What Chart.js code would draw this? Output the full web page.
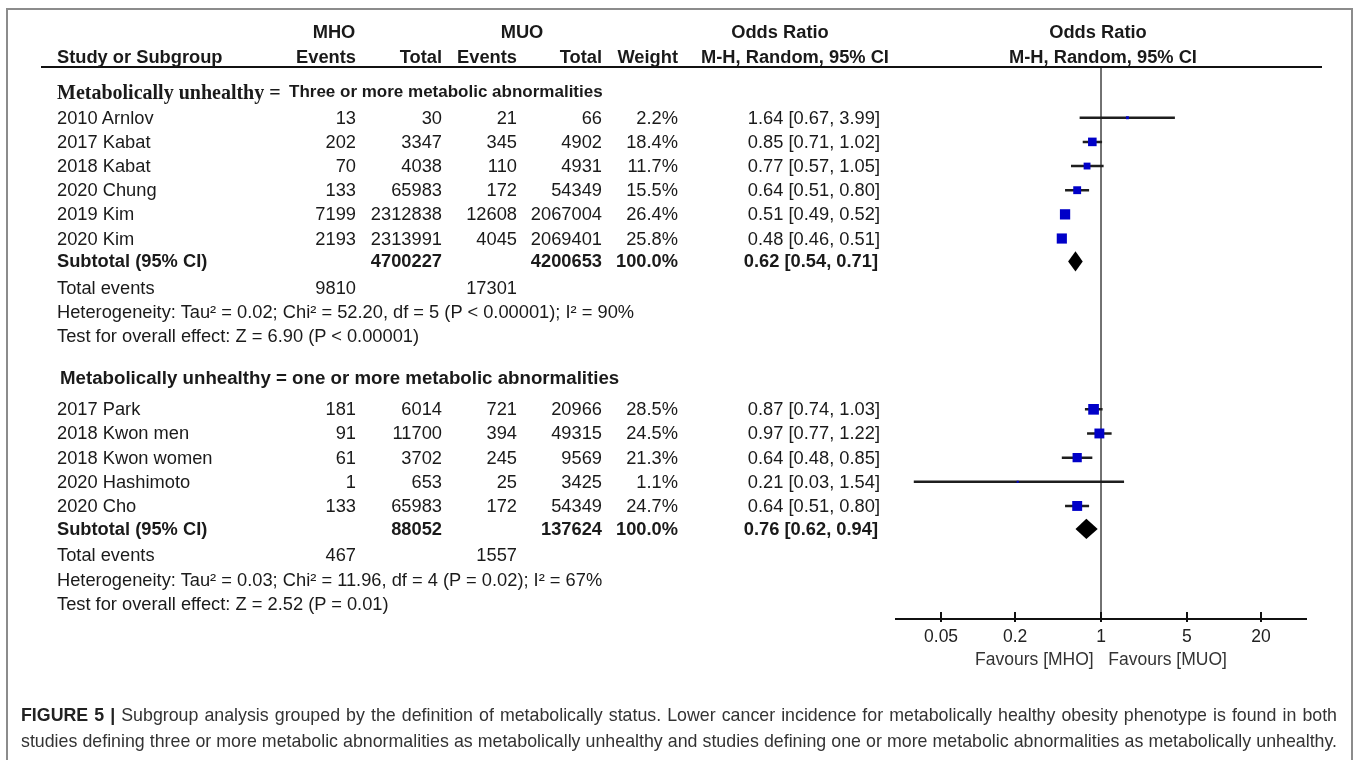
<!DOCTYPE html>
<html>
<head>
<meta charset="utf-8">
<script src="https://cdn.jsdelivr.net/npm/chart.js@4.4.1/dist/chart.umd.min.js"></script>
<style>
  body { margin: 0; background: #fff; }
  #fig { position: relative; width: 1357px; height: 760px; overflow: hidden; background: #fff;
         font-family: "Liberation Sans", Arial, sans-serif; color: #1a1a1a; }
  #frame { position: absolute; left: 6px; top: 8px; width: 1347px; height: 800px;
           border: 2px solid #8c8c8c; box-sizing: border-box; }
  #forest { position: absolute; left: 0; top: 0; }
  .t { position: absolute; white-space: nowrap; font-size: 18.3px; line-height: 20px; }
  .b { font-weight: bold; }
  .small { font-size: 17px; }
  .big { font-size: 18.7px; }
  .serif { font-family: "Liberation Serif", "Times New Roman", serif; font-weight: bold; font-size: 20px; }
  #hline { position: absolute; left: 41px; top: 66px; width: 1281px; height: 2px; background: #111; }
  .cap { position: absolute; left: 21px; width: 1316px; font-size: 17.8px; line-height: 26px; color: #333;
         white-space: nowrap; text-align: justify; text-align-last: justify; }
  .cap b { color: #222; }
</style>
</head>
<body>
<div id="fig">
  <div id="frame"></div>
  <canvas id="forest" width="1357" height="760"></canvas>
  <div id="hline"></div>
  <div class="cap" style="top:702px"><b>FIGURE 5 |</b> Subgroup analysis grouped by the definition of metabolically status. Lower cancer incidence for metabolically healthy obesity phenotype is found in both</div>
  <div class="cap" style="top:728px">studies defining three or more metabolic abnormalities as metabolically unhealthy and studies defining one or more metabolic abnormalities as metabolically unhealthy.</div>
</div>
<script>
// Gruppe 1: drei oder mehr metabolische Auffälligkeiten
var g1Studies = ['2010 Arnlov', '2017 Kabat', '2018 Kabat', '2020 Chung', '2019 Kim', '2020 Kim'];
var g1MhoEvents = [13, 202, 70, 133, 7199, 2193];
var g1MhoTotal = [30, 3347, 4038, 65983, 2312838, 2313991];
var g1MuoEvents = [21, 345, 110, 172, 12608, 4045];
var g1MuoTotal = [66, 4902, 4931, 54349, 2067004, 2069401];
var g1Weight = [2.2, 18.4, 11.7, 15.5, 26.4, 25.8];
var g1Or = [1.64, 0.85, 0.77, 0.64, 0.51, 0.48];
var g1Lo = [0.67, 0.71, 0.57, 0.51, 0.49, 0.46];
var g1Hi = [3.99, 1.02, 1.05, 0.80, 0.52, 0.51];
var g1Subtotal = [0.62, 0.54, 0.71];          // OR, lower, upper
var g1Totals = [4700227, 4200653];            // MHO total, MUO total
var g1TotalEvents = [9810, 17301];
var g1Heterogeneity = 'Heterogeneity: Tau² = 0.02; Chi² = 52.20, df = 5 (P < 0.00001); I² = 90%';
var g1Overall = 'Test for overall effect: Z = 6.90 (P < 0.00001)';

// Gruppe 2: eine oder mehr metabolische Auffälligkeiten
var g2Studies = ['2017 Park', '2018 Kwon men', '2018 Kwon women', '2020 Hashimoto', '2020 Cho'];
var g2MhoEvents = [181, 91, 61, 1, 133];
var g2MhoTotal = [6014, 11700, 3702, 653, 65983];
var g2MuoEvents = [721, 394, 245, 25, 172];
var g2MuoTotal = [20966, 49315, 9569, 3425, 54349];
var g2Weight = [28.5, 24.5, 21.3, 1.1, 24.7];
var g2Or = [0.87, 0.97, 0.64, 0.21, 0.64];
var g2Lo = [0.74, 0.77, 0.48, 0.03, 0.51];
var g2Hi = [1.03, 1.22, 0.85, 1.54, 0.80];
var g2Subtotal = [0.76, 0.62, 0.94];
var g2Totals = [88052, 137624];
var g2TotalEvents = [467, 1557];
var g2Heterogeneity = 'Heterogeneity: Tau² = 0.03; Chi² = 11.96, df = 4 (P = 0.02); I² = 67%';
var g2Overall = 'Test for overall effect: Z = 2.52 (P = 0.01)';

var tickValues = [0.05, 0.2, 1, 5, 20];
var axisLabel = 'Favours [MHO]   Favours [MUO]';

// Zeilenlayout (in Zeileneinheiten, 0 = Kopflinie)
var yMax = 22.85;
var g1Header = 1.03, g1First = 2.1;
var g2Header = 12.89, g2First = 14.17;

function rowsOf(first, n) {
    var r = [];
    for (var i = 0; i < n; i++) r.push(first + i);
    return r;
}
var g1Rows = rowsOf(g1First, g1Studies.length);
var g2Rows = rowsOf(g2First, g2Studies.length);
var g1SubRow = g1First + g1Studies.length - 0.05;
var g2SubRow = g2First + g2Studies.length - 0.05;

var allOr = g1Or.concat(g2Or), allLo = g1Lo.concat(g2Lo), allHi = g1Hi.concat(g2Hi);
var allW = g1Weight.concat(g2Weight), allRows = g1Rows.concat(g2Rows);

var squares = allOr.map(function (v, i) { return { x: v, y: allRows[i] }; });
var ciLines = [];
allLo.forEach(function (lo, i) {
    ciLines.push({ x: lo, y: allRows[i] }, { x: allHi[i], y: allRows[i] }, { x: 1, y: null });
});

var diamondPlugin = {
    id: 'diamonds',
    afterDatasetsDraw: function (chart) {
        var xs = chart.scales.x, ys = chart.scales.y, c = chart.ctx;
        [[g1Subtotal, g1SubRow], [g2Subtotal, g2SubRow]].forEach(function (d) {
            var s = d[0], r = d[1];
            c.save();
            c.fillStyle = '#000';
            c.beginPath();
            c.moveTo(xs.getPixelForValue(s[1]), ys.getPixelForValue(r));
            c.lineTo(xs.getPixelForValue(s[0]), ys.getPixelForValue(r - 0.42));
            c.lineTo(xs.getPixelForValue(s[2]), ys.getPixelForValue(r));
            c.lineTo(xs.getPixelForValue(s[0]), ys.getPixelForValue(r + 0.42));
            c.closePath();
            c.fill();
            c.restore();
        });
    },
    afterDraw: function (chart) {
        // Tick-Striche über der Achse
        var xs = chart.scales.x, c = chart.ctx, yb = chart.chartArea.bottom;
        c.save();
        c.strokeStyle = '#111';
        c.lineWidth = 2;
        tickValues.forEach(function (v) {
            var px = Math.round(xs.getPixelForValue(v));
            c.beginPath();
            c.moveTo(px, yb - 7);
            c.lineTo(px, yb + 3);
            c.stroke();
        });
        c.restore();
    }
};

var ctx = document.getElementById('forest').getContext('2d');
var forestChart = new Chart(ctx, {
    type: 'scatter',
    data: {
        datasets: [{
            data: squares,
            pointStyle: 'rect',
            backgroundColor: '#0000c8',
            borderWidth: 0,
            pointRadius: function (c) { return 2 * Math.sqrt(allW[c.dataIndex]) / 1.414; }
        }, {
            type: 'line',
            data: ciLines,
            borderColor: '#1e1e1e',
            borderWidth: 2.5,
            pointRadius: 0,
            spanGaps: false
        }, {
            type: 'line',
            data: [{ x: 1, y: 0 }, { x: 1, y: yMax }],
            borderColor: '#444',
            borderWidth: 1.5,
            pointRadius: 0
        }]
    },
    plugins: [diamondPlugin],
    options: {
        responsive: false,
        animation: false,
        layout: { padding: { left: 896, right: 51, top: 67, bottom: 91.5 } },
        plugins: { legend: { display: false }, tooltip: { enabled: false } },
        scales: {
            x: {
                type: 'logarithmic',
                min: 0.0215,
                max: 46.5,
                afterBuildTicks: function (axis) {
                    axis.ticks = tickValues.map(function (v) { return { value: v }; });
                },
                ticks: {
                    padding: 9.5,
                    color: '#222',
                    font: { family: '"Liberation Sans", Arial, sans-serif', size: 17.5, lineHeight: 1 },
                    callback: function (v) { return String(v); }
                },
                grid: { display: false, drawTicks: false },
                border: { display: true, color: '#111', width: 2 },
                title: {
                    display: true,
                    text: axisLabel,
                    color: '#333',
                    padding: { top: -4.5, bottom: 0 },
                    font: { family: '"Liberation Sans", Arial, sans-serif', size: 17.5, lineHeight: 1 }
                }
            },
            y: { type: 'linear', display: false, reverse: true, min: 0, max: yMax }
        }
    }
});

// Tabellentext
var fig = document.getElementById('fig');
var ys = forestChart.scales.y;
function put(text, x, y, align, cls) {
    var d = document.createElement('div');
    d.className = 't' + (cls ? ' ' + cls : '');
    d.textContent = text;
    d.style.top = (y - 10) + 'px';
    if (align === 'right') { d.style.left = (x - 500) + 'px'; d.style.width = '500px'; d.style.textAlign = 'right'; }
    else if (align === 'center') { d.style.left = (x - 250) + 'px'; d.style.width = '500px'; d.style.textAlign = 'center'; }
    else d.style.left = x + 'px';
    fig.appendChild(d);
    return d;
}
function rowY(r) { return ys.getPixelForValue(r); }
function ci(o, l, h) { return o.toFixed(2) + ' [' + l.toFixed(2) + ', ' + h.toFixed(2) + ']'; }

var colMhoEv = 356, colMhoTot = 442, colMuoEv = 517, colMuoTot = 602, colW = 678, colCi = 880;

// Kopfzeilen
put('MHO', 334, 32, 'center', 'b');
put('MUO', 522, 32, 'center', 'b');
put('Odds Ratio', 780, 32, 'center', 'b');
put('Odds Ratio', 1098, 32, 'center', 'b');
put('Study or Subgroup', 57, 57, 'left', 'b');
put('Events', colMhoEv, 57, 'right', 'b');
put('Total', colMhoTot, 57, 'right', 'b');
put('Events', colMuoEv, 57, 'right', 'b');
put('Total', colMuoTot, 57, 'right', 'b');
put('Weight', colW, 57, 'right', 'b');
put('M-H, Random, 95% CI', 795, 57, 'center', 'b');
put('M-H, Random, 95% CI', 1103, 57, 'center', 'b');

function drawGroup(studies, mE, mT, uE, uT, w, o, lo, hi, rows, sub, subRow, totals, tev, het, overall) {
    studies.forEach(function (s, i) {
        var y = rowY(rows[i]);
        put(s, 57, y, 'left');
        put(String(mE[i]), colMhoEv, y, 'right');
        put(String(mT[i]), colMhoTot, y, 'right');
        put(String(uE[i]), colMuoEv, y, 'right');
        put(String(uT[i]), colMuoTot, y, 'right');
        put(w[i].toFixed(1) + '%', colW, y, 'right');
        put(ci(o[i], lo[i], hi[i]), colCi, y, 'right');
    });
    var y = rowY(subRow);
    put('Subtotal (95% CI)', 57, y, 'left', 'b');
    put(String(totals[0]), colMhoTot, y, 'right', 'b');
    put(String(totals[1]), colMuoTot, y, 'right', 'b');
    put('100.0%', colW, y, 'right', 'b');
    put(ci(sub[0], sub[1], sub[2]), colCi - 2, y, 'right', 'b');
    y = rowY(subRow + 1.1);
    put('Total events', 57, y, 'left');
    put(String(tev[0]), colMhoEv, y, 'right');
    put(String(tev[1]), colMuoEv, y, 'right');
    put(het, 57, rowY(subRow + 2.1), 'left');
    put(overall, 57, rowY(subRow + 3.1), 'left');
}

put('Metabolically unhealthy = ', 57, rowY(g1Header), 'left', 'serif');
put('Three or more metabolic abnormalities', 289, rowY(g1Header), 'left', 'b small');
put('Metabolically unhealthy = one or more metabolic abnormalities', 60, rowY(g2Header), 'left', 'b big');

drawGroup(g1Studies, g1MhoEvents, g1MhoTotal, g1MuoEvents, g1MuoTotal, g1Weight, g1Or, g1Lo, g1Hi,
    g1Rows, g1Subtotal, g1SubRow, g1Totals, g1TotalEvents, g1Heterogeneity, g1Overall);
drawGroup(g2Studies, g2MhoEvents, g2MhoTotal, g2MuoEvents, g2MuoTotal, g2Weight, g2Or, g2Lo, g2Hi,
    g2Rows, g2Subtotal, g2SubRow, g2Totals, g2TotalEvents, g2Heterogeneity, g2Overall);
</script>
</body>
</html>
